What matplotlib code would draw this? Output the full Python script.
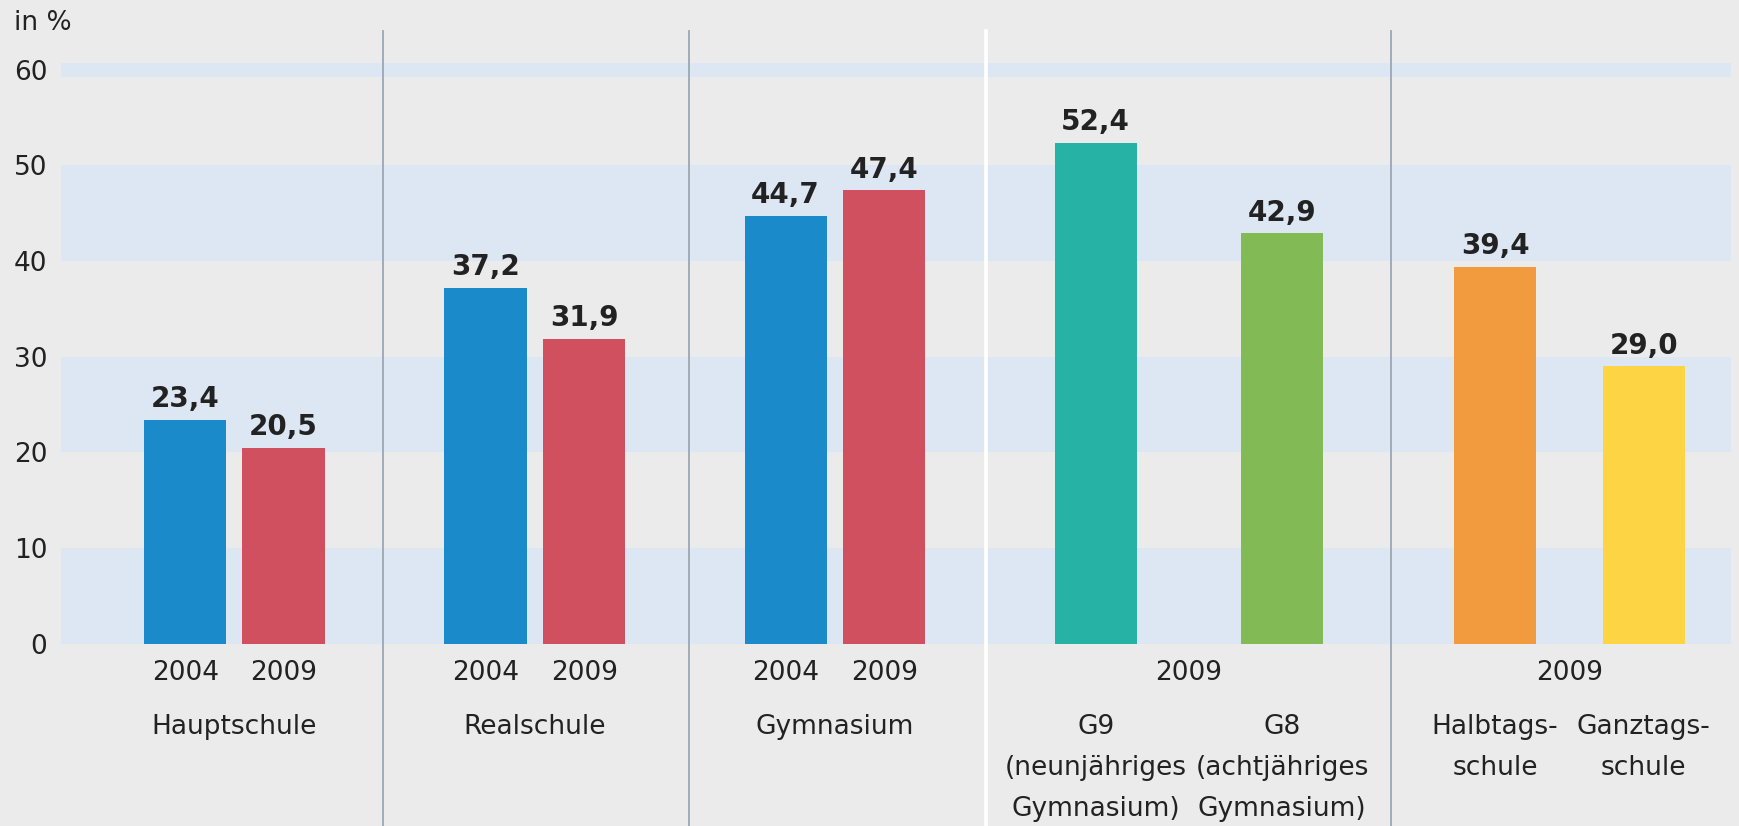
import numpy as np
import matplotlib
matplotlib.use("Agg")
import matplotlib.pyplot as plt

plt.rcParams['font.family'] = ['DejaVu Sans']

# data
groups = ["Hauptschule", "Realschule", "Gymnasium", "G", "Tag"]
bar_values = [23.4, 20.5, 37.2, 31.9, 44.7, 47.4, 52.4, 42.9, 39.4, 29.0]
bar_years = ["2004", "2009", "2004", "2009", "2004", "2009", None, None, None, None]
bar_colors = ["#1b8aca", "#d05060", "#1b8aca", "#d05060", "#1b8aca", "#d05060",
              "#26b2a5", "#82ba55", "#f29b3e", "#fdd444"]
group_years = [None, None, None, "2009", "2009"]
group_labels = [["Hauptschule"], ["Realschule"], ["Gymnasium"], None, None]
bar_labels = [None, None, None, None, None, None,
              ["G9", "(neunjähriges", "Gymnasium)"],
              ["G8", "(achtjähriges", "Gymnasium)"],
              ["Halbtags-", "schule"],
              ["Ganztags-", "schule"]]
yticks = [0, 10, 20, 30, 40, 50, 60]

# layout (x in chart units)
bar_x = [1.12, 2.005, 3.825, 4.715, 6.53, 7.42, 9.325, 11.005, 12.925, 14.265]
group_x = [1.56, 4.27, 6.975, 10.165, 13.595]
sep_x = [2.90, 5.66, 8.34, 11.99]
sep_col = ["#9aa8b5", "#9aa8b5", "#ffffff", "#9aa8b5"]
sep_w = [1.3, 1.3, 2.6, 1.3]
bar_w = 0.74
fs = 19

bg = "#ebebeb"
band = "#dde7f3"
ink = "#222222"

fig = plt.figure(figsize=(17.4, 8.26), dpi=100, facecolor=bg)
ax = fig.add_axes([0.0351, 0.2208, 0.9597, 0.7062])
ax.set_facecolor(bg)
ax.set_xlim(0, 15.05)
ax.set_ylim(0, 61)

for lo in [0, 20, 40]:
    ax.axhspan(lo, lo + 10, color=band, lw=0, zorder=0)
ax.axhspan(59.3, 60.7, color=band, lw=0, zorder=0)

for x, c, w in zip(sep_x, sep_col, sep_w):
    ax.axvline(x, ymin=-0.32, ymax=1.05, color=c, lw=w, clip_on=False, zorder=1)

ax.bar(bar_x, bar_values, width=bar_w, color=bar_colors, zorder=2)

for x, v in zip(bar_x, bar_values):
    ax.text(x, v + 0.7, f"{v:.1f}".replace(".", ","), ha="center", va="bottom",
            fontsize=20, fontweight="bold", color=ink)

line_y = [-8.7, -13.05, -17.3]
for x, yr in zip(bar_x, bar_years):
    if yr:
        ax.text(x, -3.1, yr, ha="center", va="center", fontsize=fs, color=ink)
for x, yr, lab in zip(group_x, group_years, group_labels):
    if yr:
        ax.text(x, -3.1, yr, ha="center", va="center", fontsize=fs, color=ink)
    if lab:
        for i, s in enumerate(lab):
            ax.text(x, line_y[i], s, ha="center", va="center", fontsize=fs, color=ink)
for x, lab in zip(bar_x, bar_labels):
    if lab:
        for i, s in enumerate(lab):
            ax.text(x, line_y[i], s, ha="center", va="center", fontsize=fs,
                    color=ink, clip_on=False)

ax.set_yticks(yticks)
ax.set_yticklabels([str(t) for t in yticks], fontsize=fs, color=ink)
ax.tick_params(axis="y", length=0, pad=10)
ax.set_xticks([])
for s in ax.spines.values():
    s.set_visible(False)

fig.text(0.008, 0.972, "in %", fontsize=fs, color=ink, va="center", ha="left")

fig.savefig("out.png", dpi=100, facecolor=bg)
